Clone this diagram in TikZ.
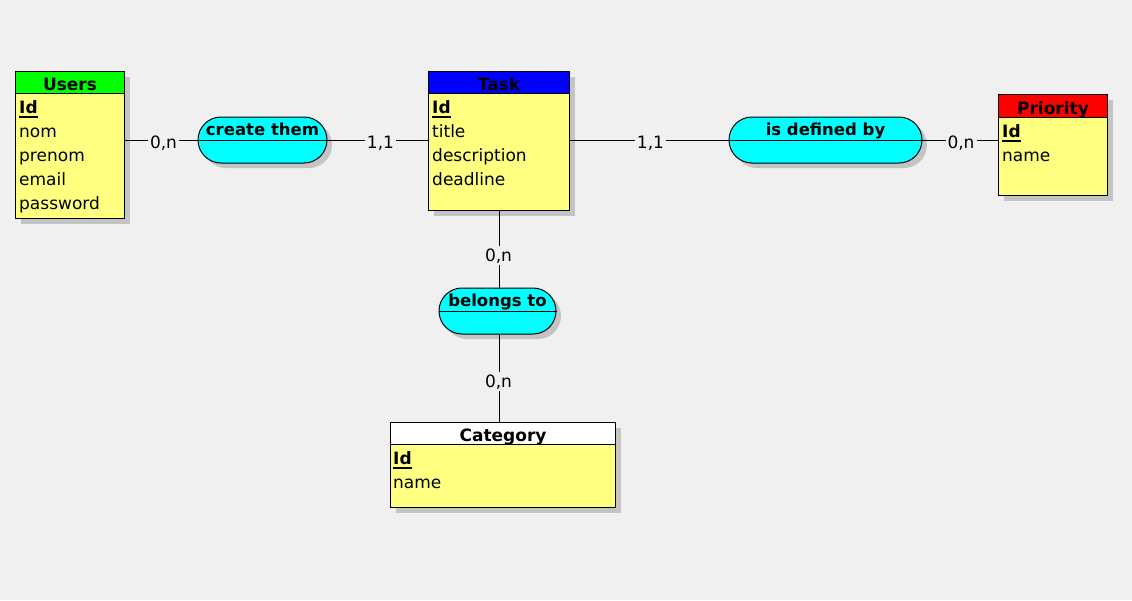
\documentclass[tikz,border=0pt]{standalone}
\usepackage{fontspec}
\setmainfont{DejaVu Sans}
\usetikzlibrary{shadows}
\definecolor{bgc}{HTML}{F0F0F0}
\definecolor{attrc}{HTML}{FFFF80}
\definecolor{relc}{HTML}{00FFFF}
\definecolor{shadc}{HTML}{C4C4C4}
\newcommand\keyul[1]{\setbox0\hbox{#1}\rlap{\rule[-4.5pt]{\wd0}{1.3pt}}\box0}
\begin{document}
\begin{tikzpicture}[x=1pt,y=-1pt,
  every node/.style={font=\fontsize{17}{24}\selectfont, inner sep=0pt},
  shad/.style={drop shadow={shadow xshift=5pt, shadow yshift=-5pt, fill=shadc, opacity=1}},
  entbox/.style={draw, line width=1pt, fill=attrc, anchor=north west, shad},
  hdr/.style={draw, line width=1pt, anchor=north west, font=\fontsize{17}{24}\selectfont\bfseries, text height=16pt, text depth=0pt},
  attr/.style={anchor=base west},
  rel/.style={draw, line width=1pt, fill=relc, rounded corners=23pt, minimum height=46pt, font=\fontsize{16.5}{24}\selectfont\bfseries, text height=0pt, text depth=10pt, shad},
  card/.style={fill=bgc, anchor=base, inner xsep=2pt, inner ysep=2pt},
  conn/.style={line width=1pt}]
\fill[bgc] (0,0) rectangle (1132,600);
\useasboundingbox (0,0) rectangle (1132,600);

% Users
\node[entbox, minimum width=109pt, minimum height=147pt] (users) at (15,71) {};
\node[hdr, fill=green, minimum width=109pt, minimum height=22pt] (usersh) at (users.north west) {Users};
\node[attr] (u1) at (19,113) {\keyul{\textbf{Id}}};
\node[attr] (u2) at (19,137) {nom};
\node[attr] (u3) at (19,161) {prenom};
\node[attr] (u4) at (19,185) {email};
\node[attr] (u5) at (19,209) {password};

% Task
\node[entbox, minimum width=141pt, minimum height=139pt] (task) at (428,71) {};
\node[hdr, fill=blue, minimum width=141pt, minimum height=22pt] (taskh) at (task.north west) {Task};
\node[attr] (t1) at (432,113) {\keyul{\textbf{Id}}};
\node[attr] (t2) at (432,137) {title};
\node[attr] (t3) at (432,161) {description};
\node[attr] (t4) at (432,185) {deadline};

% Priority
\node[entbox, minimum width=109pt, minimum height=101pt] (prio) at (998,94) {};
\node[hdr, fill=red, minimum width=109pt, minimum height=23pt] (prioh) at (prio.north west) {Priority};
\node[attr] (p1) at (1002,137) {\keyul{\textbf{Id}}};
\node[attr] (p2) at (1002,161) {name};

% Category
\node[entbox, minimum width=225pt, minimum height=85pt] (cat) at (390,422) {};
\node[hdr, fill=white, minimum width=225pt, minimum height=22pt] (cath) at (cat.north west) {Category};
\node[attr] (k1) at (393,464) {\keyul{\textbf{Id}}};
\node[attr] (k2) at (393,488) {name};

% Relationships
\node[rel, minimum width=129pt] (crel) at (262.5,140) {create them};
\node[rel, minimum width=193pt] (drel) at (825.5,140) {is defined by};
\node[rel, minimum width=117pt] (brel) at (497.5,311) {belongs to};
\draw[conn] (crel.west) -- (crel.east);
\draw[conn] (drel.west) -- (drel.east);
\draw[conn] (brel.west) -- (brel.east);

% Connectors
\draw[conn] (users.east |- crel.west) -- (crel.west);
\draw[conn] (crel.east) -- (task.west |- crel.east);
\draw[conn] (task.east |- drel.west) -- (drel.west);
\draw[conn] (drel.east) -- (prio.west |- drel.east);
\draw[conn] (task.south) -- (task.south |- brel.north);
\draw[conn] (task.south |- brel.south) -- (task.south |- cat.north);

% Cardinalities
\node[card] (c1) at (163.5,148) {0,n};
\node[card] (c2) at (380.5,148) {1,1};
\node[card] (c3) at (650.5,148) {1,1};
\node[card] (c4) at (961,148) {0,n};
\node[card] (c5) at (498.5,261) {0,n};
\node[card] (c6) at (498.5,387) {0,n};
\end{tikzpicture}
\end{document}
